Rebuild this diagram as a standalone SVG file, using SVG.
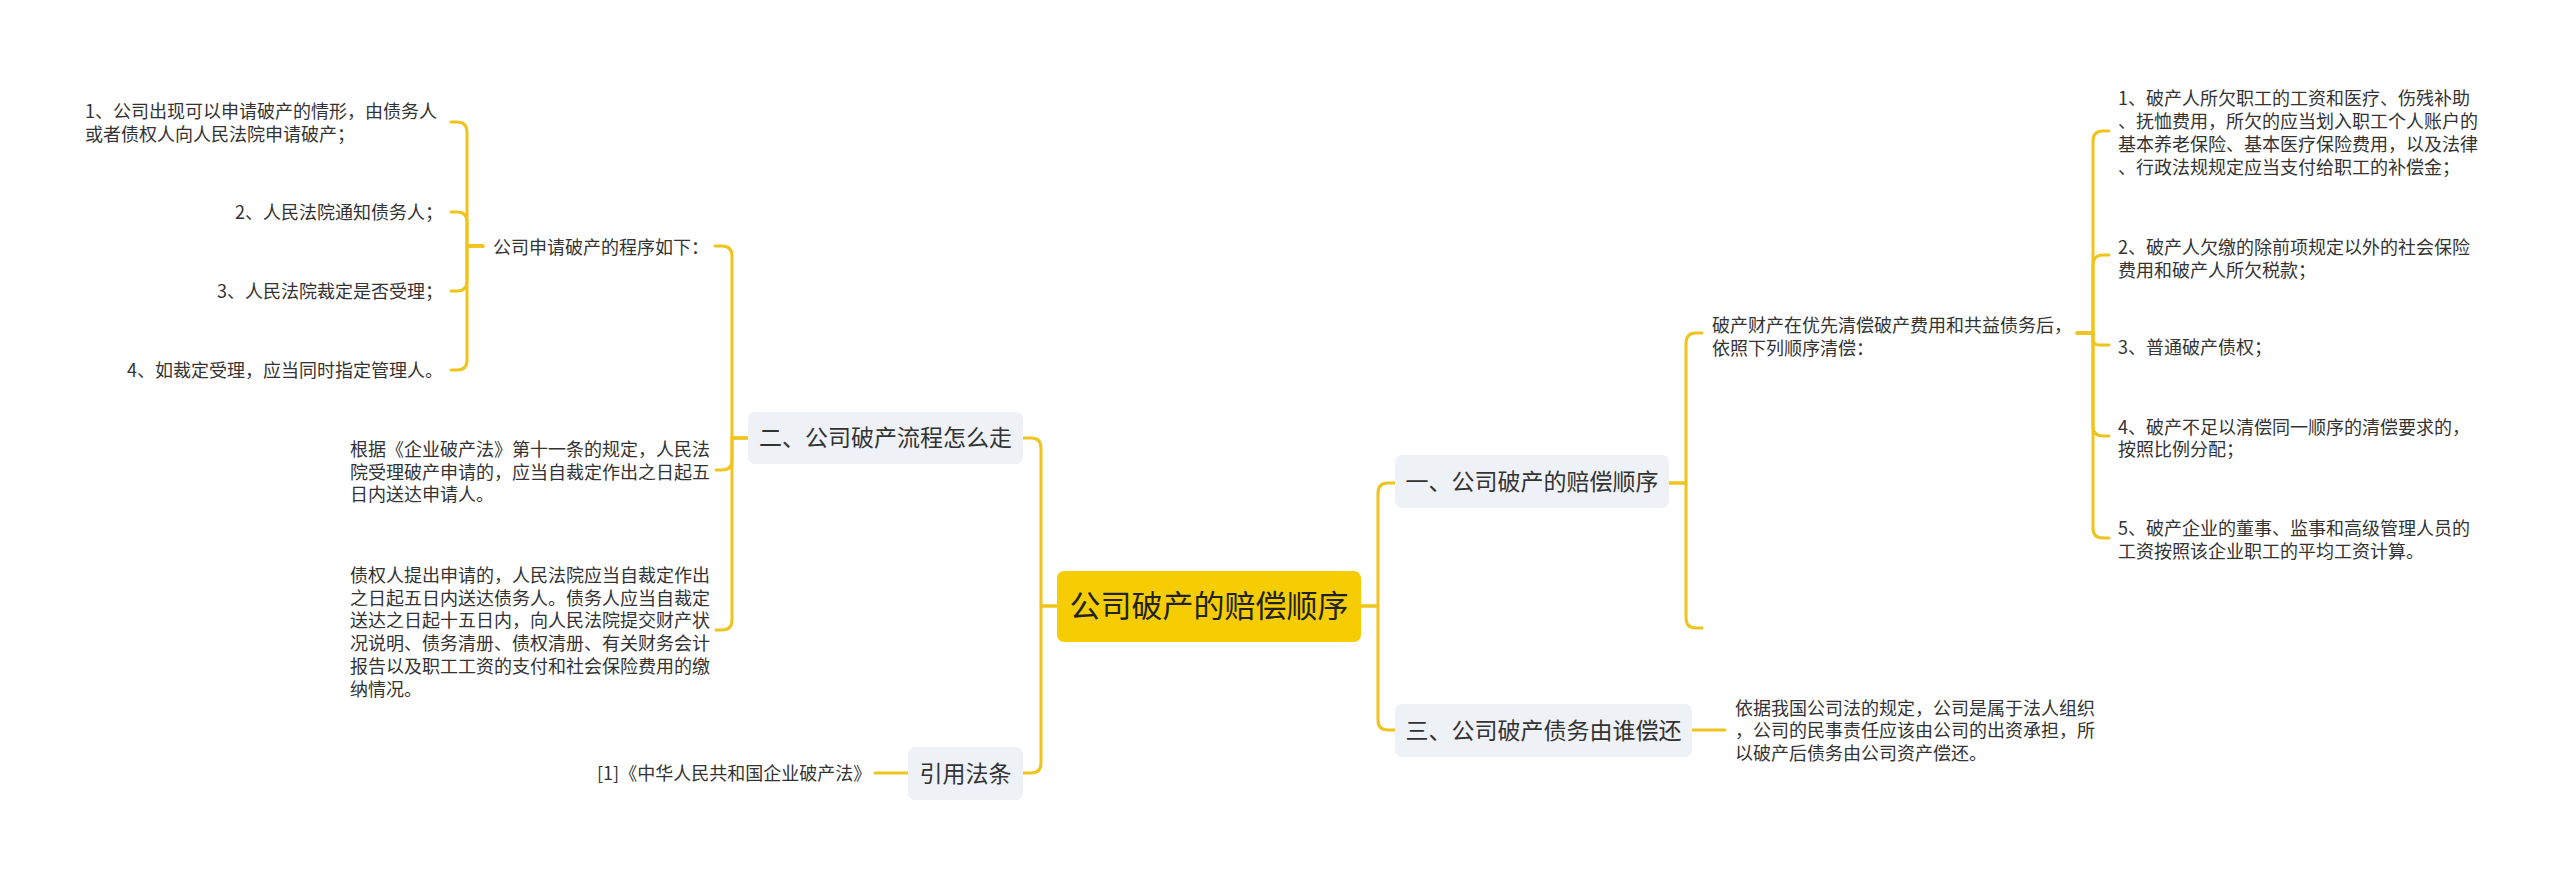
<svg xmlns="http://www.w3.org/2000/svg" width="2560" height="877" viewBox="0 0 2560 877">
<style>
.bg{fill:#ffffff}
.root{fill:#F6CD02}
.sub{fill:#EEF1F5}
.t{font-family:"Noto Sans CJK SC","Noto Sans",sans-serif;fill:#333333}
.tr{font-size:31px;fill:#222222}
.t1{font-size:23px}
.t2{font-size:18px}
.c{fill:none;stroke:#EFC41C;stroke-width:3;stroke-linecap:round;stroke-linejoin:round}
</style>
<rect class="bg" x="0" y="0" width="2560" height="877"/>
<g id="connectors">
<path class="c" d="M1361,606 H1378 V493 Q1378,483 1388,483 H1395"/>
<path class="c" d="M1361,606 H1378 V720 Q1378,730 1388,730 H1395"/>
<path class="c" d="M1057,606 H1041 V448 Q1041,438 1031,438 H1023"/>
<path class="c" d="M1057,606 H1041 V763 Q1041,773 1031,773 H1023"/>
<path class="c" d="M748,438 H732 V256 Q732,246 722,246 H715"/>
<path class="c" d="M748,438 H732 V460 Q732,470 722,470 H716"/>
<path class="c" d="M748,438 H732 V620 Q732,630 722,630 H716"/>
<path class="c" d="M483,246 H467 V132 Q467,122 457,122 H451"/>
<path class="c" d="M483,246 H467 V222 Q467,212 457,212 H451"/>
<path class="c" d="M483,246 H467 V281 Q467,291 457,291 H451"/>
<path class="c" d="M483,246 H467 V360 Q467,370 457,370 H451"/>
<path class="c" d="M1669,483 H1686 V343 Q1686,333 1696,333 H1702"/>
<path class="c" d="M1669,483 H1686 V618 Q1686,628 1696,628 H1702"/>
<path class="c" d="M2077,333 H2093 V141 Q2093,131 2103,131 H2109"/>
<path class="c" d="M2077,333 H2093 V265 Q2093,255 2103,255 H2109"/>
<path class="c" d="M2077,333 H2093 V339 Q2093,345 2099,345 H2109"/>
<path class="c" d="M2077,333 H2093 V426 Q2093,436 2103,436 H2109"/>
<path class="c" d="M2077,333 H2093 V528 Q2093,538 2103,538 H2109"/>
<path class="c" d="M1692,730 H1725"/>
<path class="c" d="M908,773 H875"/>
</g>
<g id="root">
<rect class="root" x="1057" y="571" width="304" height="71" rx="7"/>
<text class="t tr" x="1209" y="617" text-anchor="middle">公司破产的赔偿顺序</text>
</g>
<g id="n1">
<rect class="sub" x="1395" y="455" width="274" height="53" rx="7"/>
<text class="t t1" x="1532" y="490" text-anchor="middle">一、公司破产的赔偿顺序</text>
</g>
<g id="n2">
<rect class="sub" x="748" y="412" width="275" height="52" rx="7"/>
<text class="t t1" x="885.5" y="446" text-anchor="middle">二、公司破产流程怎么走</text>
</g>
<g id="n3">
<rect class="sub" x="1395" y="704" width="297" height="53" rx="7"/>
<text class="t t1" x="1543.5" y="738.5" text-anchor="middle">三、公司破产债务由谁偿还</text>
</g>
<g id="n4">
<rect class="sub" x="908" y="747" width="115" height="53" rx="7"/>
<text class="t t1" x="965.5" y="781.5" text-anchor="middle">引用法条</text>
</g>
<g id="n2-1">
<text class="t t2" x="493" y="253.5">公司申请破产的程序如下：</text>
</g>
<g id="n2-1-1">
<text class="t t2" x="85" y="118">1、公司出现可以申请破产的情形，由债务人</text>
<text class="t t2" x="85" y="140.7">或者债权人向人民法院申请破产；</text>
</g>
<g id="n2-1-2">
<text class="t t2" x="443" y="218.5" text-anchor="end">2、人民法院通知债务人；</text>
</g>
<g id="n2-1-3">
<text class="t t2" x="443" y="297.5" text-anchor="end">3、人民法院裁定是否受理；</text>
</g>
<g id="n2-1-4">
<text class="t t2" x="443" y="376.5" text-anchor="end">4、如裁定受理，应当同时指定管理人。</text>
</g>
<g id="n2-2">
<text class="t t2" x="350" y="456">根据《企业破产法》第十一条的规定，人民法</text>
<text class="t t2" x="350" y="478.7">院受理破产申请的，应当自裁定作出之日起五</text>
<text class="t t2" x="350" y="501.4">日内送达申请人。</text>
</g>
<g id="n2-3">
<text class="t t2" x="350" y="582">债权人提出申请的，人民法院应当自裁定作出</text>
<text class="t t2" x="350" y="604.7">之日起五日内送达债务人。债务人应当自裁定</text>
<text class="t t2" x="350" y="627.4">送达之日起十五日内，向人民法院提交财产状</text>
<text class="t t2" x="350" y="650.1">况说明、债务清册、债权清册、有关财务会计</text>
<text class="t t2" x="350" y="672.8">报告以及职工工资的支付和社会保险费用的缴</text>
<text class="t t2" x="350" y="695.5">纳情况。</text>
</g>
<g id="n1-1">
<text class="t t2" x="1712" y="331.5">破产财产在优先清偿破产费用和共益债务后，</text>
<text class="t t2" x="1712" y="354.5">依照下列顺序清偿：</text>
</g>
<g id="n1-2">
</g>
<g id="n1-1-1">
<text class="t t2" x="2118" y="104.5">1、破产人所欠职工的工资和医疗、伤残补助</text>
<text class="t t2" x="2118" y="127.8">、抚恤费用，所欠的应当划入职工个人账户的</text>
<text class="t t2" x="2118" y="151.1">基本养老保险、基本医疗保险费用，以及法律</text>
<text class="t t2" x="2118" y="174.4">、行政法规规定应当支付给职工的补偿金；</text>
</g>
<g id="n1-1-2">
<text class="t t2" x="2118" y="253.5">2、破产人欠缴的除前项规定以外的社会保险</text>
<text class="t t2" x="2118" y="276.5">费用和破产人所欠税款；</text>
</g>
<g id="n1-1-3">
<text class="t t2" x="2118" y="353.5">3、普通破产债权；</text>
</g>
<g id="n1-1-4">
<text class="t t2" x="2118" y="433.5">4、破产不足以清偿同一顺序的清偿要求的，</text>
<text class="t t2" x="2118" y="456">按照比例分配；</text>
</g>
<g id="n1-1-5">
<text class="t t2" x="2118" y="534.5">5、破产企业的董事、监事和高级管理人员的</text>
<text class="t t2" x="2118" y="557.5">工资按照该企业职工的平均工资计算。</text>
</g>
<g id="n3-1">
<text class="t t2" x="1735" y="714.5">依据我国公司法的规定，公司是属于法人组织</text>
<text class="t t2" x="1735" y="737.3">，公司的民事责任应该由公司的出资承担，所</text>
<text class="t t2" x="1735" y="760">以破产后债务由公司资产偿还。</text>
</g>
<g id="n4-1">
<text class="t t2" x="597" y="779.5">[1]《中华人民共和国企业破产法》</text>
</g>
</svg>
